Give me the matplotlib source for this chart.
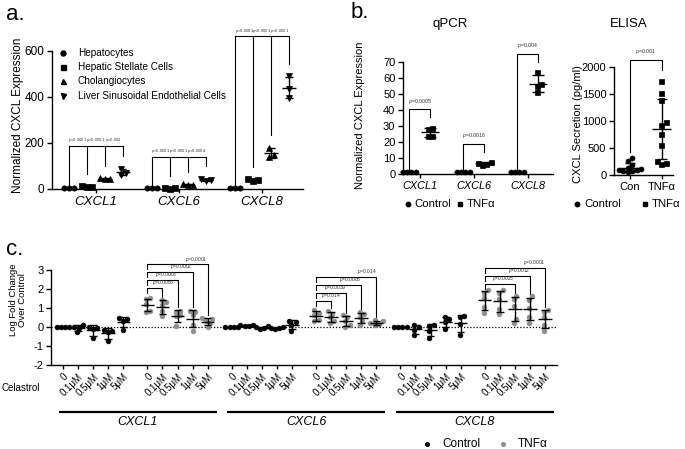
import numpy as np
import matplotlib
matplotlib.use("Agg")
import matplotlib.pyplot as plt
from matplotlib import transforms
from matplotlib.lines import Line2D

plt.rcParams["font.family"] = ["Liberation Sans", "DejaVu Sans"]
plt.rcParams["mathtext.fontset"] = "custom"
plt.rcParams["mathtext.it"] = "Liberation Sans:italic"
plt.rcParams["mathtext.rm"] = "Liberation Sans"
plt.rcParams["axes.linewidth"] = 1.0

# ---------------- data ----------------
# panel a
a_genes = ["CXCL1", "CXCL6", "CXCL8"]
a_cells = ["Hepatocytes", "Hepatic Stellate Cells", "Cholangiocytes",
           "Liver Sinusoidal Endothelial Cells"]
a_markers = ["o", "s", "^", "v"]
a_cxcl1 = [[1, 1, 1], [6, 8, 10], [40, 42, 45], [85, 68, 60]]
a_cxcl6 = [[1, 1, 1], [0.5, 1, 1.5], [15, 17, 19], [34, 38, 42]]
a_cxcl8 = [[1, 1, 1], [34, 37, 40], [178, 146, 136], [488, 435, 395]]
a_pvals = [["p<0.0001", "p<0.0001", "p=0.002"],
           ["p<0.0001", "p<0.0001", "p=0.0004"],
           ["p<0.0001", "p<0.0001", "p<0.0001"]]
a_yticks = [0, 200, 400, 600]

# panel b (qPCR)
b_genes = ["CXCL1", "CXCL6", "CXCL8"]
b_ctrl_cxcl1 = [1, 1, 1, 1]
b_ctrl_cxcl6 = [1, 1, 1, 1]
b_ctrl_cxcl8 = [1, 1, 1, 1]
b_tnf_cxcl1 = [29, 28, 24, 23.5]
b_tnf_cxcl6 = [5.5, 6.5, 7, 7.5]
b_tnf_cxcl8 = [63.5, 56, 55, 51]
b_pvals = ["p=0.0005", "p=0.0016", "p=0.004"]
b_yticks = [0, 10, 20, 30, 40, 50, 60, 70]

# panel b (ELISA)
e_labels = ["Con", "TNF\u03b1"]
e_con = [310, 250, 180, 130, 115, 100, 90, 80, 70, 55]
e_tnf = [1740, 1520, 1380, 980, 920, 760, 550, 250, 225, 210]
e_pval = "p=0.001"
e_yticks = [0, 500, 1000, 1500, 2000]

# panel c
c_doses = ["0", "0.1\u03bcM", "0.5\u03bcM", "1\u03bcM", "5\u03bcM"]
c_genes = ["CXCL1", "CXCL6", "CXCL8"]
c_cxcl1_ctrl = [[0, 0, 0, 0], [0.1, 0, -0.05, -0.25], [0, -0.05, -0.1, -0.6],
                [-0.15, -0.2, -0.3, -0.75], [0.45, 0.4, 0.3, -0.15]]
c_cxcl1_tnf = [[1.5, 1.45, 1.2, 0.85, 0.8], [1.4, 1.3, 1.15, 0.85, 0.55],
               [0.85, 0.8, 0.6, 0.55, 0.05], [0.85, 0.8, 0.6, 0.1, -0.2],
               [0.45, 0.4, 0.3, 0.2, 0.0]]
c_cxcl6_ctrl = [[0, 0, 0, 0], [0.1, 0.08, 0.05, 0.03], [0.02, -0.02, -0.05, -0.1],
                [-0.03, -0.06, -0.08, -0.1], [0.3, 0.25, 0.1, -0.2]]
c_cxcl6_tnf = [[0.9, 0.75, 0.6, 0.35, 0.3], [0.85, 0.7, 0.5, 0.3, 0.2],
               [0.6, 0.5, 0.3, 0.1, 0.0], [0.8, 0.65, 0.5, 0.3, 0.1],
               [0.35, 0.3, 0.2, 0.15, 0.1]]
c_cxcl8_ctrl = [[0, 0, 0, 0], [0.08, 0.0, -0.15, -0.45], [0.1, 0.05, -0.2, -0.6],
                [0.5, 0.4, 0.25, -0.1], [0.55, 0.5, 0.15, -0.45]]
c_cxcl8_tnf = [[1.95, 1.8, 1.5, 1.05, 0.75], [1.95, 1.8, 1.45, 0.95, 0.65],
               [1.65, 1.45, 1.1, 0.4, 0.2], [1.6, 1.4, 1.0, 0.5, 0.2],
               [0.9, 0.8, 0.5, 0.1, -0.2]]
c_pvals_cxcl1 = ["p=0.0066", "p=0.0003", "p=0.0002", "p=0.0001"]
c_pvals_cxcl6 = ["p=0.014", "p=0.0039", "p=0.0005", "p=0.014"]
c_pvals_cxcl8 = [None, "p=0.0025", "p=0.0012", "p=0.0001"]
c_yticks = [-2, -1, 0, 1, 2, 3]

# ---------------- layout helpers ----------------
W, H = 685, 449
fig = plt.figure(figsize=(W / 100, H / 100), dpi=100)
PX = transforms.Affine2D().scale(1.0 / W, -1.0 / H).translate(0, 1) + fig.transFigure
PCOL = "#333333"


def make_ax(l, r, t, b):
    ax = fig.add_axes([l / W, 1 - b / H, (r - l) / W, (b - t) / H])
    ax.patch.set_alpha(0)
    for s in ("top", "right"):
        ax.spines[s].set_visible(False)
    ax.tick_params(direction="out", length=3.5, width=1, color="k", pad=2)
    return ax


def ptxt(s):
    return r"$p$" + s[1:]


def swarm(ax, x, ys, d):
    T = ax.transData
    ppu = T.transform((1, 0))[0] - T.transform((0, 0))[0]
    ys = np.asarray(ys, float)
    ypx = np.array([T.transform((x, y))[1] for y in ys])
    offs = np.zeros(len(ys))
    placed = []
    for i in np.argsort(ypx):
        for k in range(60):
            step = ((k + 1) // 2) * (1 if k % 2 == 1 else -1)
            o = step * d * 0.5
            ok = all((o - po) ** 2 + (ypx[i] - py) ** 2 >= (0.92 * d) ** 2
                     for po, py in placed)
            if ok:
                offs[i] = o
                placed.append((o, ypx[i]))
                break
    if np.any(offs != 0):
        offs -= offs.mean()
    return x + offs / ppu


def group(ax, x, vals, marker, color, ms, mean_w, cap_w, d, lw=1.0):
    vals = np.asarray(vals, float)
    m = vals.mean()
    sd = vals.std(ddof=1)
    xs = swarm(ax, x, vals, d)
    ax.plot(xs, vals, ls="none", marker=marker, ms=ms, color=color, mec=color,
            mew=0.5, clip_on=False, zorder=3)
    kw = dict(color="k", lw=lw, zorder=4, clip_on=False, solid_capstyle="butt")
    ax.plot([x - mean_w / 2, x + mean_w / 2], [m, m], **kw)
    if sd > 0:
        lo = max(m - sd, ax.get_ylim()[0])
        ax.plot([x, x], [lo, m + sd], **kw)
        ax.plot([x - cap_w / 2, x + cap_w / 2], [m + sd] * 2, **kw)
        if m - sd >= ax.get_ylim()[0]:
            ax.plot([x - cap_w / 2, x + cap_w / 2], [m - sd] * 2, **kw)
    return max(vals.max(), m + sd)


# ---------------- panel a ----------------
ax_a = make_ax(52, 303, 27.7, 188.7)
ax_a.set_xlim(-0.95, 13.04)
ax_a.set_ylim(0, 700)
ax_a.spines["left"].set_bounds(0, 600)
ax_a.set_yticks(a_yticks)
ax_a.tick_params(axis="y", labelsize=8.5)
a_data = [a_cxcl1, a_cxcl6, a_cxcl8]
a_gstep = 4.63
a_brk_y = [187, 139, 664]
centers = []
for g, gd in enumerate(a_data):
    xs = [g * a_gstep + k for k in range(4)]
    centers.append(np.mean(xs))
    tops = []
    for k in range(4):
        tops.append(group(ax_a, xs[k], gd[k], a_markers[k], "k", 3.8, 0.75, 0.4, 4.8))
    by = a_brk_y[g]
    ax_a.plot([xs[0], xs[-1]], [by, by], color="k", lw=0.8, clip_on=False)
    for k in range(4):
        end = tops[k] + (8 if k == 0 else 55)
        ax_a.plot([xs[k], xs[k]], [end, by], color="k", lw=0.8, clip_on=False)
    for k in range(3):
        ax_a.text((xs[k] + xs[k + 1]) / 2, by + 6, ptxt(a_pvals[g][k]), ha="center",
                  va="bottom", fontsize=3.0, color=PCOL, clip_on=False)
ax_a.set_xticks(centers)
ax_a.set_xticklabels(a_genes, fontstyle="italic", fontsize=9.5)
ax_a.tick_params(axis="x", length=3)
fig.text(18, 115, "Normalized CXCL Expression", rotation=90, ha="center",
         va="center", fontsize=8.5, transform=PX)
leg_y = [53, 67, 81, 96]
for k in range(4):
    fig.add_artist(Line2D([63], [leg_y[k]], marker=a_markers[k], ms=3.6, color="k",
                          ls="none", transform=PX))
    fig.text(78, leg_y[k], a_cells[k], va="center", ha="left", fontsize=7.2,
             transform=PX)

# ---------------- panel b qPCR ----------------
ax_b = make_ax(403, 553, 42.8, 174)
ax_b.set_xlim(-0.31, 2.47)
ax_b.set_ylim(0, 82)
ax_b.spines["left"].set_bounds(0, 70)
ax_b.set_yticks(b_yticks)
ax_b.tick_params(axis="y", labelsize=8)
b_ctrl = [b_ctrl_cxcl1, b_ctrl_cxcl6, b_ctrl_cxcl8]
b_tnf = [b_tnf_cxcl1, b_tnf_cxcl6, b_tnf_cxcl8]
for g in range(3):
    xc, xt = g - 0.195, g + 0.195
    tc = group(ax_b, xc, b_ctrl[g], "o", "k", 3.6, 0.34, 0.22, 4.4)
    tt = group(ax_b, xt, b_tnf[g], "s", "k", 3.6, 0.34, 0.22, 4.4)
    by = max(tc, tt) + 11.5
    ax_b.plot([xc, xc, xt, xt], [tc + 1.5, by, by, tt + 6.5], color="k", lw=0.8,
              clip_on=False)
    ax_b.text(g, by + 2.2, ptxt(b_pvals[g]), ha="center", va="bottom", fontsize=3.8,
              color=PCOL, clip_on=False)
ax_b.set_xticks(range(3))
ax_b.set_xticklabels(b_genes, fontstyle="italic", fontsize=7.8)
ax_b.tick_params(axis="x", length=3)
fig.text(360, 115, "Normalized CXCL Expression", rotation=90, ha="center",
         va="center", fontsize=8, transform=PX)
fig.text(450, 27, "qPCR", ha="center", va="baseline", fontsize=9.5, transform=PX)

# ---------------- panel b ELISA ----------------
ax_e = make_ax(614, 673, 45, 175)
ax_e.set_xlim(-0.5, 1.35)
ax_e.set_ylim(0, 2400)
ax_e.spines["left"].set_bounds(0, 2000)
ax_e.set_yticks(e_yticks)
ax_e.tick_params(axis="y", labelsize=8)
tc = group(ax_e, 0, e_con, "o", "k", 3.6, 0.6, 0.33, 4.4)
tt = group(ax_e, 1, e_tnf, "s", "k", 3.6, 0.6, 0.33, 4.4)
by = tt + 390
ax_e.plot([0, 0, 1, 1], [tc + 120, by, by, tt + 190], color="k", lw=0.8,
          clip_on=False)
ax_e.text(0.5, by + 60, ptxt(e_pval), ha="center", va="bottom", fontsize=3.8,
          color=PCOL, clip_on=False)
ax_e.set_xticks([0, 1])
ax_e.set_xticklabels(e_labels, fontsize=8)
ax_e.tick_params(axis="x", length=3)
fig.text(578, 124, "CXCL Secretion (pg/ml)", rotation=90, ha="center",
         va="center", fontsize=8, transform=PX)
fig.text(628.5, 27, "ELISA", ha="center", va="baseline", fontsize=9.5, transform=PX)

# legends for panel b
for mx, tx, mk, lab in [(408, 414, "o", "Control"), (460, 467, "s", "TNF\u03b1"),
                        (577, 584, "o", "Control"), (645, 652, "s", "TNF\u03b1")]:
    fig.add_artist(Line2D([mx], [204], marker=mk, ms=3.2, color="k", ls="none",
                          transform=PX))
    fig.text(tx, 204, lab, va="center", ha="left", fontsize=8.2, transform=PX)

# ---------------- panel c ----------------
ax_c = make_ax(51, 557, 258.6, 364.7)
ax_c.set_xlim(-0.8, 32.8)
ax_c.set_ylim(-2, 3.6)
ax_c.spines["left"].set_bounds(-2, 3)
ax_c.set_yticks(c_yticks)
ax_c.set_yticklabels([str(v) for v in c_yticks])
ax_c.tick_params(axis="y", labelsize=8)
ax_c.axhline(0, color="k", lw=0.9, ls=(0, (1, 1.5)), zorder=1)
c_sets = [(c_cxcl1_ctrl, c_cxcl1_tnf, c_pvals_cxcl1),
          (c_cxcl6_ctrl, c_cxcl6_tnf, c_pvals_cxcl6),
          (c_cxcl8_ctrl, c_cxcl8_tnf, c_pvals_cxcl8)]
c_gstep = 5.6
c_brk_base = [2.03, 1.37, 2.26]
c_brk_step = 0.42
grey = "#8e8e8e"
all_x = []
for gi, (ctrl, tnf, pv) in enumerate(c_sets):
    base_c = (2 * gi) * c_gstep
    base_t = (2 * gi + 1) * c_gstep
    for i in range(5):
        group(ax_c, base_c + i, ctrl[i], "o", "k", 3.4, 0.9, 0.5, 4.2)
    tops = []
    for i in range(5):
        tops.append(group(ax_c, base_t + i, tnf[i], "o", grey, 3.4, 0.9, 0.5, 4.2))
    all_x += [base_c + i for i in range(5)] + [base_t + i for i in range(5)]
    lev = 0
    for j in range(1, 5):
        if pv[j - 1] is None:
            continue
        by = c_brk_base[gi] + lev * c_brk_step
        lev += 1
        x0, x1 = base_t, base_t + j
        ax_c.plot([x0, x0, x1, x1], [by - 0.25, by, by, tops[j] + 0.15], color="k",
                  lw=0.8, clip_on=False)
        if j == 1:
            ax_c.text(x0 + 0.3, by + 0.05, ptxt(pv[j - 1]), ha="left", va="bottom",
                      fontsize=3.5, color=PCOL, clip_on=False)
        else:
            ax_c.text(x1, by + 0.05, ptxt(pv[j - 1]), ha="right", va="bottom",
                      fontsize=3.5, color=PCOL, clip_on=False)
    # underline + gene label
    blend = transforms.blended_transform_factory(ax_c.transData, PX)
    xa, xb = base_c - 0.3, base_t + 4 + 0.6
    fig.add_artist(Line2D([xa, xb], [411.7, 411.7], color="k", lw=1.6,
                          transform=blend, solid_capstyle="butt"))
    fig.text((xa + xb) / 2, 421.7, c_genes[gi], transform=blend, ha="center",
             va="center", fontstyle="italic", fontsize=9)
ax_c.set_xticks(all_x)
ax_c.set_xticklabels(c_doses * 6, rotation=45, ha="right", va="top",
                     rotation_mode="anchor", fontsize=7)
ax_c.tick_params(axis="x", length=3, pad=2)
fig.text(18, 300, "Log Fold Change\nOver Control", rotation=90, ha="center",
         va="center", fontsize=6.8, linespacing=1.05, transform=PX)
fig.text(1, 388, "Celastrol", ha="left", va="center", fontsize=7, transform=PX)
fig.add_artist(Line2D([427], [444], marker="o", ms=2.6, color="k", ls="none",
                      transform=PX))
fig.text(442, 444, "Control", ha="left", va="center", fontsize=8.5, transform=PX)
fig.add_artist(Line2D([503], [444], marker="o", ms=2.6, color=grey, ls="none",
                      transform=PX))
fig.text(518, 444, "TNF\u03b1", ha="left", va="center", fontsize=8.5, transform=PX)

# panel letters
fig.text(6, 20, "a.", fontsize=16, va="baseline", transform=PX)
fig.text(351, 18, "b.", fontsize=16, va="baseline", transform=PX)
fig.text(6, 255, "c.", fontsize=16, va="baseline", transform=PX)

fig.savefig("out.png", dpi=100)
